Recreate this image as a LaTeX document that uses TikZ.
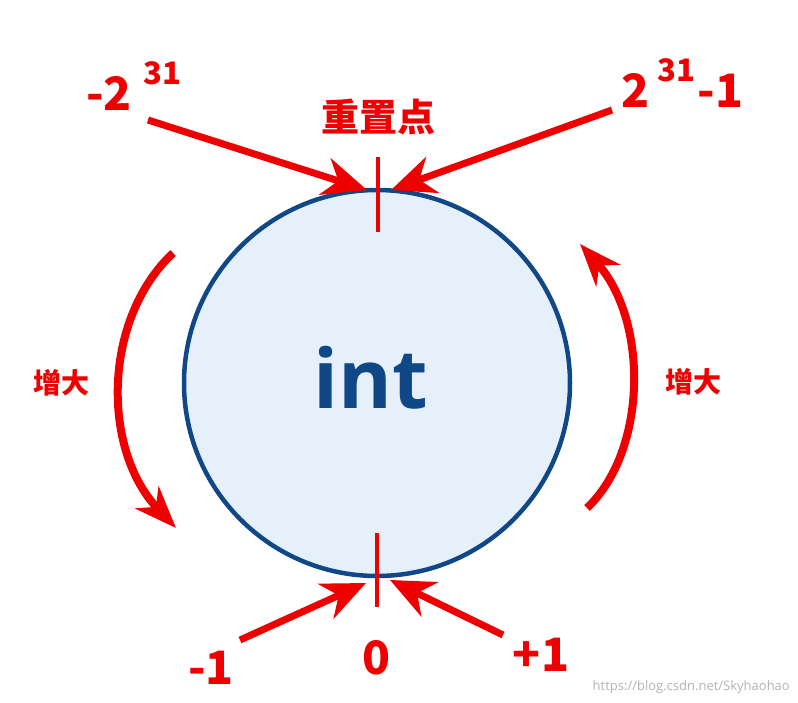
\documentclass[tikz,border=0pt]{standalone}
\usepackage{fontspec}
\setmainfont{Open Sans}
\newfontfamily\cjk{Noto Sans CJK SC}
\usetikzlibrary{arrows.meta}
\definecolor{myred}{RGB}{238,0,0}
\definecolor{myblue}{RGB}{16,72,135}
\definecolor{myfill}{RGB}{230,240,251}
\tikzset{
  ring/.style={circle,draw=myblue,line width=4.5pt,fill=myfill,minimum size=386pt,inner sep=0pt},
  tick/.style={draw=myred,line width=4pt},
  bigarrow/.style={draw=myred,line width=7pt,-{Stealth[length=44pt,width=38pt,inset=14pt,fill=myred]}},
  arcarrow/.style={draw=myred,line width=8pt,-{Stealth[length=42pt,width=32pt,inset=13pt,fill=myred]}},
  numlabel/.style={text=myred,font=\cjk\bfseries\fontsize{46}{50}\selectfont,inner sep=0pt},
  cjklabel/.style={text=myred,font=\cjk\bfseries\fontsize{#1}{#1}\selectfont,inner sep=0pt},
}
\begin{document}
\begin{tikzpicture}[x=1pt,y=-1pt]
\useasboundingbox (0,0) rectangle (798,702);
\node[ring] (c) at (377,383) {};
\node[text=myblue,font=\bfseries\fontsize{82}{90}\selectfont,inner sep=0pt] (int) at (371,378) {int};
% ticks
\coordinate (t1) at (378,157);
\coordinate (t2) at (378,232);
\coordinate (b1) at (377,533);
\coordinate (b2) at (377,607);
\draw[tick] (t1) -- (t2);
\draw[tick] (b1) -- (b2);
% top arrows
\coordinate (tl0) at (148,120);
\coordinate (tlt) at (367,190);
\coordinate (tr0) at (612,110);
\coordinate (trt) at (391,190);
\draw[bigarrow] (tl0) -- (tlt);
\draw[bigarrow] (tr0) -- (trt);
% bottom arrows
\coordinate (bl0) at (240,640);
\coordinate (blt) at (366,583);
\coordinate (br0) at (503,635);
\coordinate (brt) at (390,580);
\draw[bigarrow] (bl0) -- (blt);
\draw[bigarrow] (br0) -- (brt);
% side arcs
\coordinate (la0) at (173,253);
\coordinate (la1) at (176,528);
\draw[arcarrow] (la0) .. controls (102,320) and (102,450) .. (la1);
\coordinate (ra0) at (587,508);
\coordinate (ra1) at (580,244);
\draw[arcarrow] (ra0) .. controls (648,450) and (648,320) .. (ra1);
% labels
\node[numlabel,anchor=base west] (m231) at (86,110) {-2\hspace{12pt}\raisebox{26pt}{\fontsize{31}{31}\selectfont 31}};
\node[numlabel,anchor=base west] (p231) at (621,107) {2\hspace{8pt}\raisebox{26pt}{\fontsize{31}{31}\selectfont 31}\hspace{3pt}-1};
\node[cjklabel=38] (reset) at (378,117) {重置点};
\node[cjklabel=28] (incl) at (62,383) {增大};
\node[cjklabel=28] (incr) at (693,382) {增大};
\node[numlabel,anchor=base] (zero) at (377,674) {0};
\node[numlabel,anchor=base] (mone) at (211,684) {-1};
\node[numlabel,anchor=base] (pone) at (541,671) {+1};
\node[text=black!30,font=\fontsize{13}{14}\selectfont,inner sep=0pt,anchor=base east] (wm) at (790,690) {https://blog.csdn.net/Skyhaohao};
\end{tikzpicture}
\end{document}
